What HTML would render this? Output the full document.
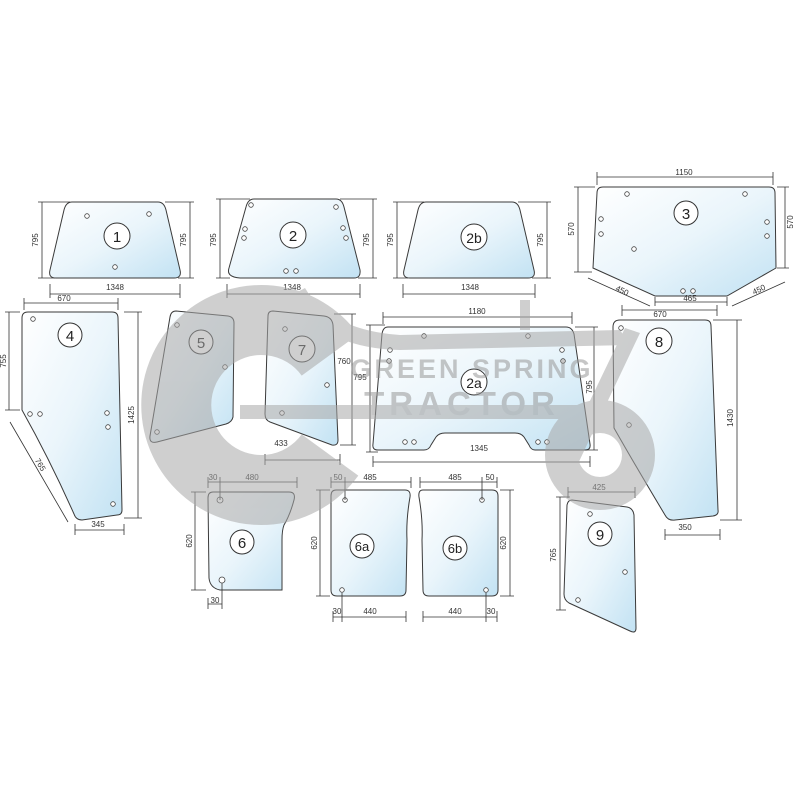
<!DOCTYPE html>
<html><head><meta charset="utf-8"><style>
html,body{margin:0;padding:0;background:#fff}
svg{display:block}
text{font-family:"Liberation Sans",sans-serif;}
.d{stroke:#333;stroke-width:0.8;fill:none}
.t{font-size:8px;fill:#333;text-anchor:middle}
.g{fill:url(#gl);stroke:#3a3a3a;stroke-width:1}
.h{fill:#fff;stroke:#444;stroke-width:0.8}
.c{fill:#fff;stroke:#333;stroke-width:1}
.n{font-size:15px;fill:#222;text-anchor:middle}
</style></head><body>
<svg width="800" height="800" viewBox="0 0 800 800">
<defs>
<linearGradient id="gl" x1="0" y1="0" x2="1" y2="1">
<stop offset="0" stop-color="#ffffff"/><stop offset="0.5" stop-color="#eaf5fb"/><stop offset="1" stop-color="#c2e2f3"/>
</linearGradient>
</defs>

<!-- piece 1 -->
<path class="g" d="M72 202 L158 202 Q164 202 166 210 L180 270 Q182 278 174 278 L56 278 Q48 278 50 270 L64 210 Q66 202 72 202Z"/>
<circle class="h" cx="87" cy="216" r="2.3"/><circle class="h" cx="149" cy="214" r="2.3"/><circle class="h" cx="115" cy="267" r="2.3"/>
<circle class="c" cx="117" cy="236" r="13"/><text class="n" x="117" y="242">1</text>
<path class="d" d="M42 202V278M38 202H70M38 278H55M190 202V278M165 202H194M178 278H194M50 294H180M50 284V298M180 284V298"/>
<text class="t" transform="translate(38,240) rotate(-90)">795</text><text class="t" transform="translate(186,240) rotate(-90)">795</text><text class="t" x="115" y="290">1348</text>

<!-- piece 2 -->
<path class="g" d="M254 199 L336 199 Q342 199 344 207 L360 270 Q361 278 354 278 L240 278 Q226 277 229 268 L246 207 Q248 199 254 199Z"/>
<circle class="h" cx="251" cy="205" r="2.3"/><circle class="h" cx="245" cy="229" r="2.3"/><circle class="h" cx="244" cy="238" r="2.3"/><circle class="h" cx="336" cy="207" r="2.3"/><circle class="h" cx="343" cy="228" r="2.3"/><circle class="h" cx="346" cy="238" r="2.3"/><circle class="h" cx="286" cy="271" r="2.3"/><circle class="h" cx="296" cy="271" r="2.3"/>
<circle class="c" cx="293" cy="235" r="13"/><text class="n" x="293" y="241">2</text>
<path class="d" d="M220 199V278M216 199H250M216 278H230M373 199V278M340 199H377M358 278H377M227 294H360M227 284V298M360 284V298"/>
<text class="t" transform="translate(216,240) rotate(-90)">795</text><text class="t" transform="translate(369,240) rotate(-90)">795</text><text class="t" x="292" y="290">1348</text>

<!-- piece 2b -->
<path class="g" d="M426 202 L512 202 Q518 202 520 210 L534 270 Q536 278 528 278 L410 278 Q402 278 404 270 L418 210 Q420 202 426 202Z"/>
<circle class="c" cx="474" cy="237" r="13"/><text class="n" x="474" y="243" style="font-size:14px">2b</text>
<path class="d" d="M397 202V278M393 202H424M393 278H408M547 202V278M518 202H551M532 278H551M403 294H535M403 284V298M535 284V298"/>
<text class="t" transform="translate(393,240) rotate(-90)">795</text><text class="t" transform="translate(543,240) rotate(-90)">795</text><text class="t" x="470" y="290">1348</text>

<!-- piece 3 -->
<path class="g" d="M603 187 L769 187 Q775 187 775 193 L776 268 L727 296 L655 296 L593 268 L597 193 Q597 187 603 187Z"/>
<circle class="h" cx="627" cy="194" r="2.3"/><circle class="h" cx="745" cy="194" r="2.3"/><circle class="h" cx="601" cy="219" r="2.3"/><circle class="h" cx="601" cy="234" r="2.3"/><circle class="h" cx="634" cy="249" r="2.3"/><circle class="h" cx="767" cy="222" r="2.3"/><circle class="h" cx="767" cy="236" r="2.3"/><circle class="h" cx="683" cy="291" r="2.3"/><circle class="h" cx="693" cy="291" r="2.3"/>
<circle class="c" cx="686" cy="213" r="12"/><text class="n" x="686" y="219">3</text>
<path class="d" d="M597 177H773M597 172V185M773 172V185M578 187V272M574 187H595M574 272H592M785 187V268M777 187H789M777 268H789M655 302H727M655 297V306M727 297V306M588 278L650 306M732 306L785 282"/>
<text class="t" x="684" y="175">1150</text><text class="t" transform="translate(574,229) rotate(-90)">570</text><text class="t" transform="translate(793,222) rotate(-90)">570</text><text class="t" x="690" y="301">465</text>
<text class="t" transform="translate(621,293) rotate(25)">450</text><text class="t" transform="translate(760,292) rotate(-25)">450</text>

<!-- piece 4 -->
<path class="g" d="M28 312 L112 312 Q118 312 118 318 L122 510 Q122 515 117 515 L82 520 Q76 520 74 514 Q50 460 22 410 L22 318 Q22 312 28 312Z"/>
<circle class="h" cx="33" cy="319" r="2.3"/><circle class="h" cx="30" cy="414" r="2.3"/><circle class="h" cx="40" cy="414" r="2.3"/><circle class="h" cx="107" cy="413" r="2.3"/><circle class="h" cx="108" cy="427" r="2.3"/><circle class="h" cx="113" cy="504" r="2.3"/>
<circle class="c" cx="70" cy="335" r="12"/><text class="n" x="70" y="341">4</text>
<path class="d" d="M24 303H118M24 298V310M118 298V310M9 312V410M5 312H20M5 410H20M138 312V518M124 312H142M124 518H142M10 422L68 522M75 530H124M75 524V535M124 524V535"/>
<text class="t" x="64" y="301">670</text><text class="t" transform="translate(6,361) rotate(-90)">755</text><text class="t" transform="translate(134,415) rotate(-90)">1425</text><text class="t" transform="translate(38,466) rotate(60)">765</text><text class="t" x="98" y="527">345</text>

<!-- piece 5 -->
<path class="g" d="M176 311 L228 316 Q234 317 234 323 L233 417 Q232 422 226 424 L157 442 Q149 444 150 436 L170 317 Q171 311 176 311Z"/>
<circle class="h" cx="177" cy="325" r="2.3"/><circle class="h" cx="225" cy="367" r="2.3"/><circle class="h" cx="157" cy="432" r="2.3"/>
<circle class="c" cx="201" cy="342" r="12"/><text class="n" x="201" y="348">5</text>

<!-- piece 7 -->
<path class="g" d="M273 311 L324 316 Q332 317 333 325 L338 440 Q338 446 332 445 L270 422 Q265 420 265 414 L268 316 Q268 311 273 311Z"/>
<circle class="h" cx="285" cy="329" r="2.3"/><circle class="h" cx="327" cy="385" r="2.3"/><circle class="h" cx="282" cy="413" r="2.3"/>
<circle class="c" cx="302" cy="349" r="13"/><text class="n" x="302" y="355">7</text>
<path class="d" d="M352 314V445M334 314H356M340 445H356M265 460H340M265 454V465M340 454V465"/>
<text class="t" x="344" y="364">760</text><text class="t" x="360" y="380">795</text><text class="t" x="281" y="446">433</text>

<!-- piece 2a -->
<path class="g" d="M388 327 L566 327 Q572 327 574 334 L590 444 Q591 450 585 450 L535 450 Q531 450 529 445 L524 437 Q521 433 515 433 L445 433 Q439 433 436 437 L431 445 Q429 450 424 450 L378 450 Q372 450 373 444 L382 334 Q383 327 388 327Z"/>
<circle class="h" cx="424" cy="336" r="2.3"/><circle class="h" cx="528" cy="336" r="2.3"/><circle class="h" cx="390" cy="350" r="2.3"/><circle class="h" cx="389" cy="361" r="2.3"/><circle class="h" cx="562" cy="350" r="2.3"/><circle class="h" cx="563" cy="361" r="2.3"/><circle class="h" cx="405" cy="442" r="2.3"/><circle class="h" cx="414" cy="442" r="2.3"/><circle class="h" cx="538" cy="442" r="2.3"/><circle class="h" cx="547" cy="442" r="2.3"/>
<circle class="c" cx="474" cy="382" r="13"/><text class="n" x="474" y="388" style="font-size:14px">2a</text>
<path class="d" d="M383 317H572M383 312V324M572 312V324M370 325V452M366 325H385M366 452H378M594 327V450M575 327H598M585 450H598M373 462H590M373 456V467M590 456V467"/>
<text class="t" x="477" y="314">1180</text><text class="t" transform="translate(592,387) rotate(-90)">795</text><text class="t" x="479" y="451">1345</text>

<!-- piece 8 -->
<path class="g" d="M620 320 L705 320 Q711 320 711 326 L718 510 Q719 515 713 516 L675 520 Q668 521 665 515 Q635 465 614 428 L613 327 Q613 320 620 320Z"/>
<circle class="h" cx="621" cy="328" r="2.3"/><circle class="h" cx="629" cy="425" r="2.3"/>
<circle class="c" cx="659" cy="341" r="13"/><text class="n" x="659" y="347">8</text>
<path class="d" d="M622 310H717M622 305V316M717 305V316M737 320V520M713 320H742M720 520H742M665 535H720M665 529V540M720 529V540"/>
<text class="t" x="660" y="317">670</text><text class="t" transform="translate(733,418) rotate(-90)">1430</text><text class="t" x="685" y="530">350</text>

<!-- piece 6 -->
<path class="g" d="M213 492 L289 492 Q296 492 294 500 Q290 515 284 525 Q282 530 282 540 L282 590 L220 590 Q210 588 209 578 L208 498 Q208 492 213 492Z"/>
<circle class="h" cx="220" cy="500" r="3"/><circle class="h" cx="222" cy="580" r="3"/>
<circle class="c" cx="242" cy="542" r="12"/><text class="n" x="242" y="548">6</text>
<path class="d" d="M208 482H297M208 477V488M220 477V500M297 477V488M195 492V590M191 492H206M191 590H206M208 604H222M208 598V609M222 583V609"/>
<text class="t" x="213" y="480">30</text><text class="t" x="252" y="480">480</text><text class="t" transform="translate(192,541) rotate(-90)">620</text><text class="t" x="215" y="603">30</text>

<!-- piece 6a -->
<path class="g" d="M336 490 L405 490 Q411 490 410 497 Q406 520 407 540 L406 590 Q406 596 400 596 L337 596 Q331 596 331 590 L331 496 Q331 490 336 490Z"/>
<circle class="h" cx="345" cy="500" r="2.3"/><circle class="h" cx="342" cy="590" r="2.3"/>
<circle class="c" cx="362" cy="546" r="12"/><text class="n" x="362" y="551" style="font-size:13px">6a</text>
<path class="d" d="M331 482H411M331 477V488M345 477V500M411 477V488M320 490V596M316 490H330M316 596H330M333 617H406M333 611V622M342 593V622M406 611V622"/>
<text class="t" x="338" y="480">50</text><text class="t" x="370" y="480">485</text><text class="t" transform="translate(317,543) rotate(-90)">620</text><text class="t" x="337" y="614">30</text><text class="t" x="370" y="614">440</text>

<!-- piece 6b -->
<path class="g" d="M423 490 L492 490 Q498 490 498 496 L498 590 Q498 596 492 596 L429 596 Q423 596 423 590 L422 540 Q423 520 419 497 Q418 490 423 490Z"/>
<circle class="h" cx="482" cy="500" r="2.3"/><circle class="h" cx="486" cy="590" r="2.3"/>
<circle class="c" cx="455" cy="548" r="12"/><text class="n" x="455" y="553" style="font-size:13px">6b</text>
<path class="d" d="M420 482H497M420 477V488M482 477V500M497 477V488M510 490V596M500 490H514M500 596H514M423 617H497M423 611V622M486 593V622M497 611V622"/>
<text class="t" x="455" y="480">485</text><text class="t" x="490" y="480">50</text><text class="t" transform="translate(506,543) rotate(-90)">620</text><text class="t" x="455" y="614">440</text><text class="t" x="491" y="614">30</text>

<!-- piece 9 -->
<path class="g" d="M572 500 L627 507 Q633 508 634 515 L636 628 Q636 634 630 631 L569 603 Q564 600 564 594 L567 505 Q568 500 572 500Z"/>
<circle class="h" cx="590" cy="514" r="2.3"/><circle class="h" cx="625" cy="572" r="2.3"/><circle class="h" cx="578" cy="600" r="2.3"/>
<circle class="c" cx="600" cy="534" r="12"/><text class="n" x="600" y="540">9</text>
<path class="d" d="M568 492H635M568 487V498M635 487V498M560 497V610M556 497H570M556 610H566"/>
<text class="t" x="599" y="490">425</text><text class="t" transform="translate(556,555) rotate(-90)">765</text>

<!-- watermark overlay -->
<g opacity="0.55">
<g fill="none" stroke="#a8a8a8" stroke-width="70">
<path d="M330 355 A85 85 0 1 0 330 455"/>
</g>
<g fill="#a8a8a8">
<rect x="240" y="405" width="380" height="14"/>
<path d="M305 288 Q330 330 400 335 L620 330 L630 345 L400 350 Q320 348 292 295 Z"/>
<path d="M625 328 L640 333 L575 470 L560 463 Z"/>
<path fill-rule="evenodd" d="M545 455 A55 55 0 1 0 655 455 A55 55 0 1 0 545 455Z M578 455 A22 22 0 1 1 622 455 A22 22 0 1 1 578 455Z"/>
<rect x="520" y="300" width="10" height="30"/>
</g>
<text x="472" y="378" font-size="27" font-weight="bold" fill="#999" text-anchor="middle" letter-spacing="3">GREEN SPRING</text>
<text x="462" y="415" font-size="33" font-weight="bold" fill="#999" text-anchor="middle" letter-spacing="5">TRACTOR</text>
</g>
</svg>
</body></html>
